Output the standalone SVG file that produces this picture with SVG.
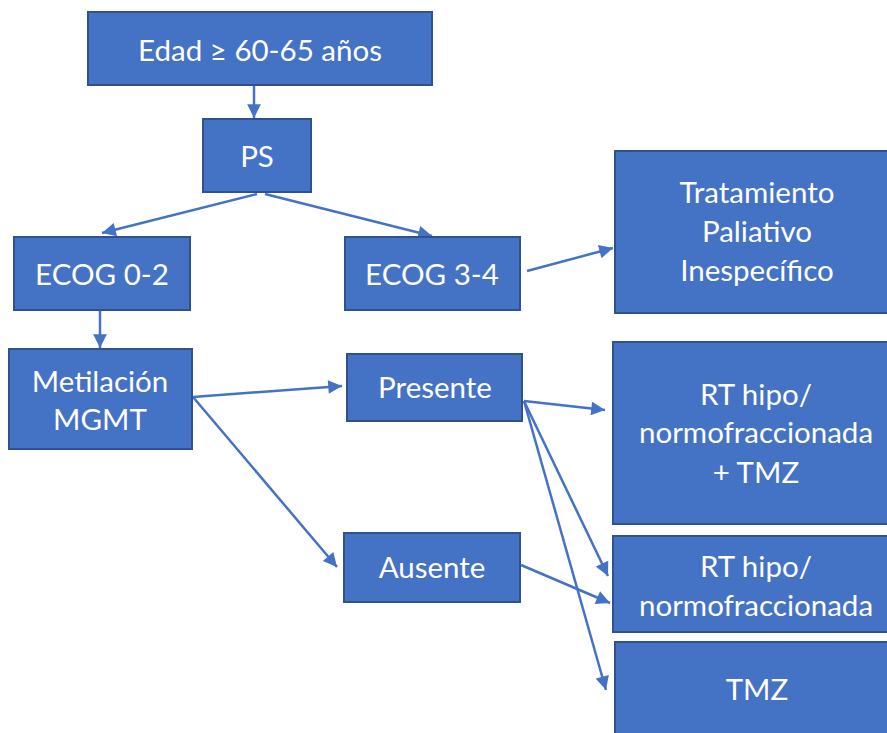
<svg xmlns="http://www.w3.org/2000/svg" width="887" height="733" viewBox="0 0 887 733">
<defs>
<marker id="ah" viewBox="0 0 10 10" refX="10" refY="5" markerWidth="6" markerHeight="5.5" markerUnits="strokeWidth" orient="auto">
<path d="M0,0 L10,5 L0,10 z" fill="#4472C4"/>
</marker>
<style>
.box{fill:#4472C4;stroke:#2F528F;stroke-width:2}
.t{fill:#fff;font-family:Lato,"Open Sans",sans-serif;font-size:29.5px;text-anchor:middle}
.c{stroke:#4472C4;stroke-width:2.5;fill:none;marker-end:url(#ah)}
</style>
</defs>
<rect width="887" height="733" fill="#fff"/>
<g id="connectors">
<line class="c" x1="254" y1="85" x2="254" y2="118"/>
<line class="c" x1="257" y1="194" x2="102" y2="233"/>
<line class="c" x1="265" y1="194" x2="432" y2="236"/>
<line class="c" x1="100" y1="310" x2="100" y2="348"/>
<line class="c" x1="527" y1="271" x2="613" y2="248"/>
<line class="c" x1="193" y1="397" x2="342" y2="386"/>
<line class="c" x1="193" y1="397" x2="337" y2="567"/>
<line class="c" x1="524" y1="401" x2="605" y2="410"/>
<line class="c" x1="524" y1="401" x2="608" y2="576"/>
<line class="c" x1="524" y1="401" x2="606" y2="690"/>
<line class="c" x1="521" y1="565" x2="610" y2="603"/>
</g>
<g id="n-edad"><rect class="box" x="88" y="12" width="344" height="73"/><text class="t" x="260" y="61">Edad ≥ 60-65 años</text></g>
<g id="n-ps"><rect class="box" x="203" y="119" width="108" height="73"/><text class="t" x="257" y="167">PS</text></g>
<g id="n-ecog02"><rect class="box" x="14" y="237" width="176" height="73"/><text class="t" x="102" y="285">ECOG 0-2</text></g>
<g id="n-ecog34"><rect class="box" x="345" y="237" width="175" height="73"/><text class="t" x="432" y="285">ECOG 3-4</text></g>
<g id="n-paliativo"><rect class="box" x="615" y="151" width="280" height="162"/><text class="t" x="757" y="203">Tratamiento</text><text class="t" x="757" y="242">Paliativo</text><text class="t" x="757" y="281">Inespecífico</text></g>
<g id="n-metilacion"><rect class="box" x="9" y="349" width="183" height="100"/><text class="t" x="100" y="392">Metilación</text><text class="t" x="100" y="430">MGMT</text></g>
<g id="n-presente"><rect class="box" x="347" y="354" width="175" height="67"/><text class="t" x="435" y="398">Presente</text></g>
<g id="n-ausente"><rect class="box" x="344" y="533" width="176" height="69"/><text class="t" x="432" y="578">Ausente</text></g>
<g id="n-rt-tmz"><rect class="box" x="613" y="342" width="282" height="182"/><text class="t" x="756" y="405">RT hipo/</text><text class="t" x="756" y="443">normofraccionada</text><text class="t" x="756" y="483">+ TMZ</text></g>
<g id="n-rt"><rect class="box" x="613" y="536" width="282" height="96"/><text class="t" x="756" y="577">RT hipo/</text><text class="t" x="756" y="616">normofraccionada</text></g>
<g id="n-tmz"><rect class="box" x="615" y="642" width="280" height="100"/><text class="t" x="757" y="700">TMZ</text></g>
</svg>
